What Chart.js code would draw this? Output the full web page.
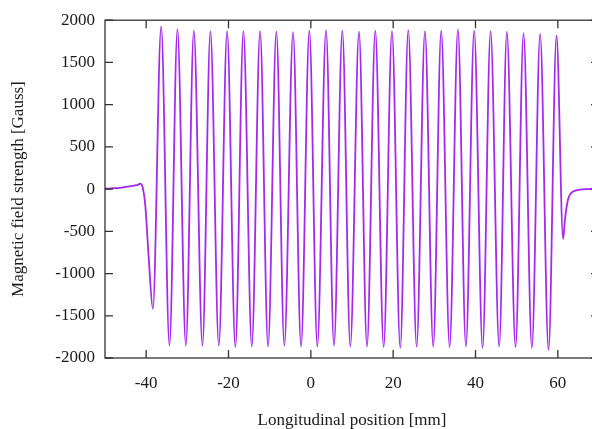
<!DOCTYPE html>
<html><head><meta charset="utf-8">
<script src="https://cdn.jsdelivr.net/npm/chart.js@4.4.1/dist/chart.umd.min.js"></script>
<style>html,body{margin:0;padding:0;background:#fff;overflow:hidden;width:592px;height:429px}canvas{display:block}</style>
</head><body>
<canvas id="c" width="600" height="429" style="width:600px;height:429px"></canvas>
<script>
// Entrance (left) region of the field
const entranceX = [-50, -49, -48, -47, -46, -45, -44, -43, -42, -41.45, -40.9, -40.2, -39.4];
const entranceY = [8, 4, 12, 10, 18, 26, 33, 42, 50, 66, 30, -200, -800];
// Field maxima
const peakX = [-36.36, -32.40, -28.42, -24.39, -20.34, -16.38, -12.33, -8.37, -4.32, -0.36, 3.69, 7.65, 11.70, 15.66, 19.71, 23.67, 27.72, 31.67, 35.73, 39.68, 43.66, 47.62, 51.67, 55.70, 59.68];
const peakY = [1927, 1895, 1875, 1868, 1871, 1871, 1871, 1868, 1859, 1879, 1883, 1875, 1863, 1875, 1871, 1883, 1871, 1875, 1891, 1875, 1871, 1863, 1847, 1839, 1816];
// Field minima
const troughX = [-38.37, -34.34, -30.36, -26.33, -22.35, -18.33, -14.34, -10.39, -6.43, -2.38, 1.58, 5.63, 9.59, 13.64, 17.69, 21.72, 25.70, 29.73, 33.71, 37.67, 41.72, 45.75, 49.73, 53.69, 57.74, 61.29];
const troughY = [-1418, -1852, -1852, -1852, -1852, -1872, -1864, -1864, -1852, -1864, -1864, -1852, -1864, -1864, -1872, -1879, -1864, -1864, -1872, -1864, -1879, -1864, -1872, -1879, -1903, -591];
// Exit (right) region of the field
const exitX = [61.7, 62.5, 63.3, 64.5, 66.9, 70];
const exitY = [-375, -118, -45, -15, 0, 3];
// Tick labels
const xTickValues = [-40, -20, 0, 20, 40, 60];
const yTickValues = [-2000, -1500, -1000, -500, 0, 500, 1000, 1500, 2000];

const pts = [];
const add = (xs, ys) => xs.forEach((x, i) => pts.push({x: x, y: ys[i]}));
add(entranceX, entranceY); add(peakX, peakY); add(troughX, troughY); add(exitX, exitY);
pts.sort((a, b) => a.x - b.x);

const FONT = "'Liberation Serif', 'Times New Roman', serif";
Chart.defaults.font.family = FONT;
Chart.defaults.font.size = 17;
Chart.defaults.color = '#1a1a1a';

const frame = {
  id: 'frame',
  afterDraw(chart) {
    const {ctx, chartArea: a, scales: {x, y}} = chart;
    ctx.save();
    ctx.strokeStyle = '#333333';
    ctx.lineWidth = 1.3;
    ctx.strokeRect(a.left, a.top, a.right - a.left, a.bottom - a.top);
    const L = 8;
    ctx.beginPath();
    xTickValues.forEach(v => {
      const px = x.getPixelForValue(v);
      ctx.moveTo(px, a.bottom); ctx.lineTo(px, a.bottom - L);
      ctx.moveTo(px, a.top); ctx.lineTo(px, a.top + L);
    });
    yTickValues.forEach(v => {
      const py = y.getPixelForValue(v);
      ctx.moveTo(a.left, py); ctx.lineTo(a.left + L, py);
      ctx.moveTo(a.right, py); ctx.lineTo(a.right - L, py);
    });
    ctx.stroke();
    ctx.restore();
  }
};

new Chart(document.getElementById('c'), {
  type: 'line',
  data: { datasets: [{
    data: pts,
    borderColor: '#a428ee',
    borderWidth: 1.8,
    pointRadius: 0,
    fill: false,
    cubicInterpolationMode: 'monotone'
  }]},
  options: {
    responsive: false,
    animation: false,
    devicePixelRatio: 1,
    layout: { padding: { top: 20, right: 1, left: 0, bottom: 0 } },
    plugins: { legend: { display: false }, tooltip: { enabled: false } },
    scales: {
      x: {
        type: 'linear', min: -50, max: 70,
        grid: { display: false, drawTicks: false },
        border: { display: false },
        afterBuildTicks: s => { s.ticks = xTickValues.map(v => ({value: v})); },
        afterFit: s => { s.height = 71; },
        ticks: { autoSkip: false, maxRotation: 0, padding: 15, callback: v => String(v) },
        title: { display: true, text: 'Longitudinal position [mm]', font: { size: 17 }, padding: { top: 0, bottom: -2 } }
      },
      y: {
        type: 'linear', min: -2000, max: 2000,
        grid: { display: false, drawTicks: false },
        border: { display: false },
        afterBuildTicks: s => { s.ticks = yTickValues.map(v => ({value: v})); },
        afterFit: s => { s.width = 105; },
        ticks: { autoSkip: false, padding: 10, callback: v => String(v) },
        title: { display: true, text: 'Magnetic field strength [Gauss]', font: { size: 17 }, padding: { top: 8, bottom: 0 } }
      }
    }
  },
  plugins: [frame]
});
</script>
</body></html>
